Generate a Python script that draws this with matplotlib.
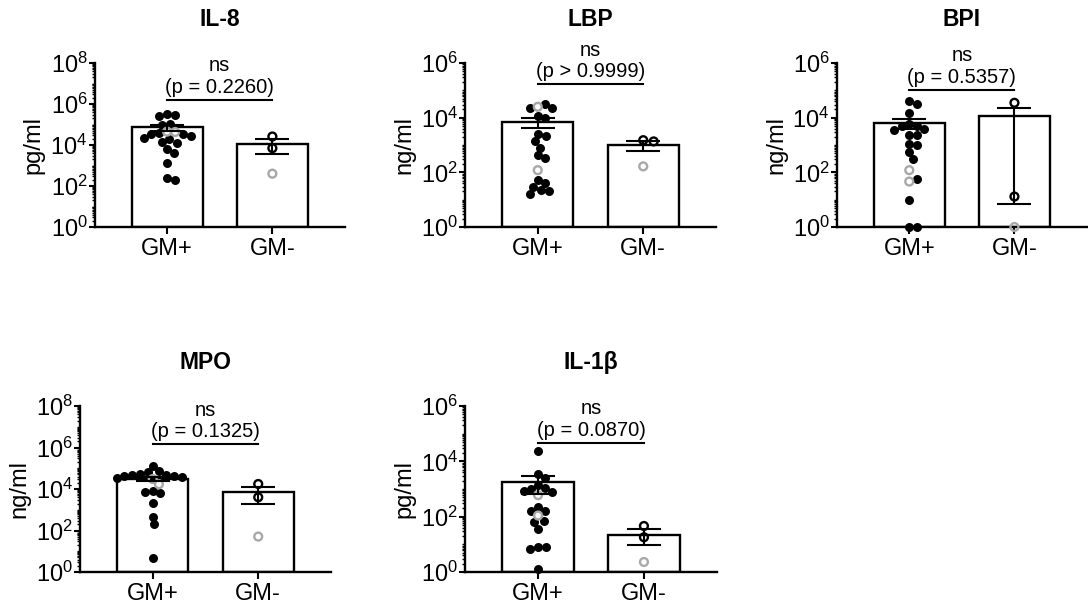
import numpy as np
import matplotlib
matplotlib.use("Agg")
import matplotlib.pyplot as plt
from matplotlib.ticker import FixedLocator, NullFormatter, LogFormatterMathtext

plt.rcParams['font.family'] = ['Liberation Sans', 'DejaVu Sans']

# ---- data ----
groups = ["GM+", "GM-"]
titles = ["IL-8", "LBP", "BPI", "MPO", "IL-1β"]
units = ["pg/ml", "ng/ml", "ng/ml", "ng/ml", "pg/ml"]
p_labels = ["(p = 0.2260)", "(p > 0.9999)", "(p = 0.5357)", "(p = 0.1325)", "(p = 0.0870)"]
top_exp = [8, 6, 6, 8, 6]

# IL-8
il8_pos_black = [3.2e5, 2.6e5, 2.9e5, 1.05e5, 9.5e4, 3.5e4, 3.3e4, 3.8e4, 2.8e4, 2.2e4,
                 1.4e4, 1.3e4, 1.9e4, 6.3e3, 4.2e3, 1.3e3, 190, 240]
il8_pos_gray = [4.5e4, 4.3e4]
il8_neg_black = [2.6e4, 7.0e3]
il8_neg_gray = [400]
il8_mean = [7.2e4, 1.15e4]
il8_sem = [2.2e4, 7.8e3]

# LBP
lbp_pos_black = [2.2e4, 3.2e4, 2.2e4, 9.8e3, 1.2e4, 2.2e3, 2.5e3, 810, 1.35e3, 330, 420,
                 41, 51, 22, 16, 20, 29]
lbp_pos_gray = [2.5e4, 120]
lbp_neg_black = [1.5e3, 1.35e3]
lbp_neg_gray = [165]
lbp_mean = [6.9e3, 1.0e3]
lbp_sem = [2.6e3, 420]

# BPI
bpi_pos_black = [4.1e4, 3.2e4, 1.5e4, 5.1e3, 4.0e3, 2.3e3, 2.3e3, 3.6e3, 4.8e3, 6.0e3,
                 1.1e3, 1.0e3, 540, 300, 56, 9.8, 1, 1]
bpi_pos_gray = [120, 46]
bpi_neg_black = [3.5e4, 13]
bpi_neg_gray = [1]
bpi_mean = [6.3e3, 1.17e4]
bpi_sem = [2.6e3, 11693]

# MPO
mpo_pos_black = [4.9e4, 7.6e4, 6.3e4, 1.3e5, 4.7e4, 4.1e4, 3.6e4, 3.5e4, 5.2e4, 4.2e4,
                 7.4e3, 6.2e3, 7.8e3, 2.1e3, 470, 195, 4.9]
mpo_pos_gray = [1.7e4, 3.0e4]
mpo_neg_black = [1.74e4, 4.0e3]
mpo_neg_gray = [51]
mpo_mean = [3.0e4, 7.15e3]
mpo_sem = [7.0e3, 5.25e3]

# IL-1b
il1b_pos_black = [2.3e4, 3.5e3, 2.6e3, 1.45e3, 870, 800, 1.0e3, 1.05e3, 220, 166, 166,
                  72, 63, 36, 8, 7, 8.3, 1.3]
il1b_pos_gray = [600, 110]
il1b_neg_black = [46, 18]
il1b_neg_gray = [2.3]
il1b_mean = [1.79e3, 22]
il1b_sem = [1.15e3, 12.6]

pos_black = [il8_pos_black, lbp_pos_black, bpi_pos_black, mpo_pos_black, il1b_pos_black]
pos_gray = [il8_pos_gray, lbp_pos_gray, bpi_pos_gray, mpo_pos_gray, il1b_pos_gray]
neg_black = [il8_neg_black, lbp_neg_black, bpi_neg_black, mpo_neg_black, il1b_neg_black]
neg_gray = [il8_neg_gray, lbp_neg_gray, bpi_neg_gray, mpo_neg_gray, il1b_neg_gray]
means = [il8_mean, lbp_mean, bpi_mean, mpo_mean, il1b_mean]
sems = [il8_sem, lbp_sem, bpi_sem, mpo_sem, il1b_sem]

# ---- layout (pixel boxes of each axes: x0, y0, x1, y1) ----
W, H = 1088, 606
boxes = [(94.5, 63, 345, 227), (465, 63, 716, 227), (836.7, 63, 1087, 227),
         (80, 406, 331, 572), (465, 406, 717, 572)]
sig_level = [10**6.21, 10**5.23, 10**5.02, 10**6.16, 10**4.68]
GRAY = '#a8a8a8'


def swarm_x(ax, xc, vals, first=0, diam=8.0):
    # simple beeswarm in display pixels; points listed after index `first`
    # are placed first so they stay near the centre
    disp = ax.transData.transform(np.column_stack([np.full(len(vals), xc), vals]))
    x0 = disp[0, 0]
    ys = disp[:, 1]
    idx = np.argsort(ys)[::-1]
    order = [j for j in idx if j >= first] + [j for j in idx if j < first]
    placed = []
    xs = np.zeros(len(vals))
    for i in order:
        y = ys[i]
        cands = [0.0]
        for px, py in placed:
            dy = abs(py - y)
            if dy < diam:
                dx = np.sqrt(diam**2 - dy**2)
                cands += [px + dx, px - dx]
        cands = sorted(cands, key=abs)
        best = cands[0]
        for c in cands:
            if all((c - px)**2 + (y - py)**2 >= diam**2 - 1e-6 for px, py in placed):
                best = c
                break
        placed.append((best, y))
        xs[i] = x0 + best
    back = ax.transData.inverted().transform(np.column_stack([xs, ys]))
    return back[:, 0]


fig = plt.figure(figsize=(W / 100, H / 100), dpi=100)

for i in range(5):
    x0, y0, x1, y1 = boxes[i]
    ax = fig.add_axes([x0 / W, 1 - y1 / H, (x1 - x0) / W, (y1 - y0) / H])
    top = top_exp[i]
    ax.set_yscale('log')
    ax.set_ylim(1, 10**top)
    ax.set_xlim(-0.69, 1.69)

    m = means[i]
    ax.bar([0, 1], [v - 1 for v in m], bottom=1, width=0.673, color='white',
           edgecolor='black', linewidth=1.7, zorder=1)

    # GM+ points
    nb = len(pos_black[i])
    vals = list(pos_black[i]) + list(pos_gray[i])
    xs = swarm_x(ax, 0, vals, first=nb)
    ax.scatter(xs[:nb], pos_black[i], s=42, color='black', zorder=3, clip_on=False,
               linewidths=0)
    ax.scatter(xs[nb:], pos_gray[i], s=32, facecolors='none', edgecolors=GRAY,
               linewidths=1.7, zorder=3, clip_on=False)

    # GM- points
    nb = len(neg_black[i])
    vals = list(neg_black[i]) + list(neg_gray[i])
    xs = swarm_x(ax, 1, vals, first=len(vals), diam=10.5)
    ax.scatter(xs[:nb], neg_black[i], s=32, facecolors='none', edgecolors='black',
               linewidths=1.7, zorder=3, clip_on=False)
    ax.scatter(xs[nb:], neg_gray[i], s=32, facecolors='none', edgecolors=GRAY,
               linewidths=1.7, zorder=3, clip_on=False)

    ax.errorbar([0, 1], m, yerr=sems[i], fmt='none', ecolor='black', elinewidth=1.5,
                capsize=12, capthick=1.5, zorder=4)

    # significance bar
    h = sig_level[i]
    ax.plot([0, 1], [h, h], color='black', lw=1.5, clip_on=False, zorder=5)
    ax.annotate(p_labels[i], xy=(0.5, h), xytext=(0, 9), textcoords='offset points',
                ha='center', va='center', fontsize=14.5, annotation_clip=False)
    ax.annotate("ns", xy=(0.5, h), xytext=(0, 24.5), textcoords='offset points',
                ha='center', va='center', fontsize=14.5, annotation_clip=False)

    # axes styling
    ax.yaxis.set_major_locator(FixedLocator(10.0**np.arange(0, top + 1, 2)))
    ax.yaxis.set_major_formatter(LogFormatterMathtext())
    minor = [k * 10.0**e for e in range(top) for k in range(1, 10)
             if not (k == 1 and e % 2 == 0)]
    ax.yaxis.set_minor_locator(FixedLocator(minor))
    ax.yaxis.set_minor_formatter(NullFormatter())
    ax.tick_params(axis='y', which='major', length=4, width=1.5, labelsize=17, pad=1)
    ax.tick_params(axis='y', which='minor', length=2.5, width=1.0)
    ax.set_xticks([0, 1])
    ax.set_xticklabels(groups)
    ax.tick_params(axis='x', length=5, width=1.5, labelsize=17, pad=3)
    for s in ['top', 'right']:
        ax.spines[s].set_visible(False)
    for s in ['left', 'bottom']:
        ax.spines[s].set_linewidth(1.7)
    ax.set_ylabel(units[i], fontsize=17, labelpad=4)
    ax.set_title(titles[i], fontsize=16.5, fontweight='bold', pad=26.5)

fig.savefig("out.png", dpi=100)
